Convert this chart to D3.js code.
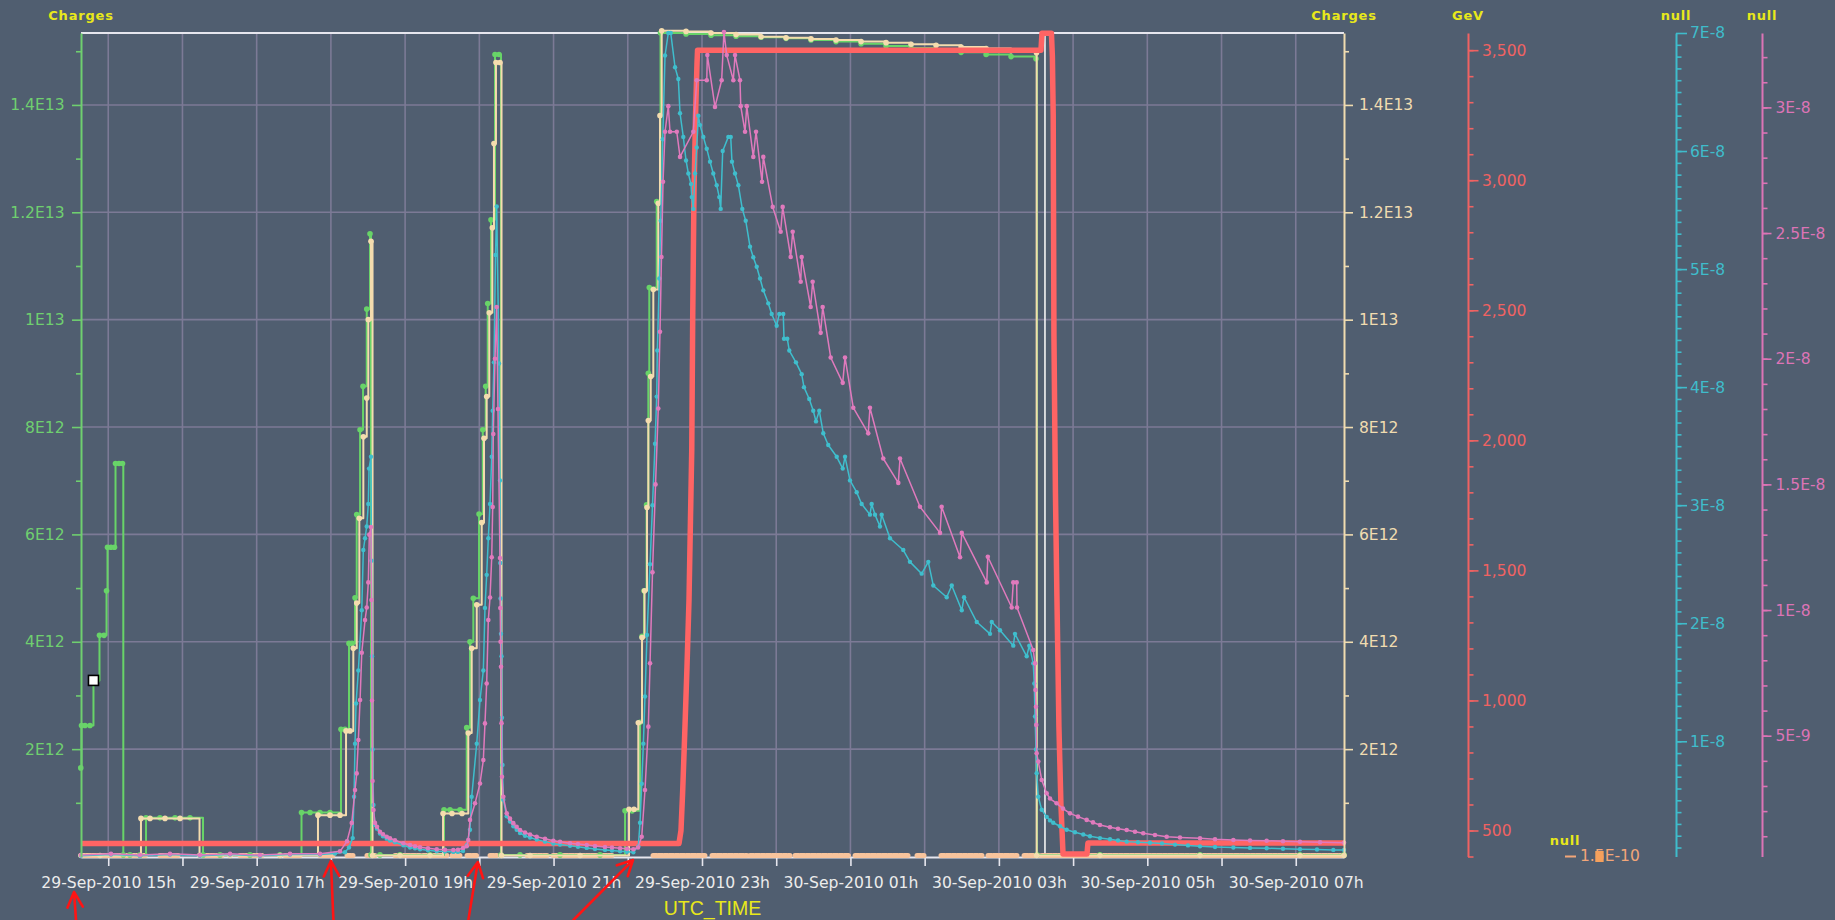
<!DOCTYPE html>
<html>
<head>
<meta charset="utf-8">
<title>Charges, GeV and signals – 29/30 Sep 2010</title>
<script src="https://cdn.jsdelivr.net/npm/d3@7/dist/d3.min.js"></script>
<style>
  html, body { margin: 0; padding: 0; background: #505e70; }
  svg { display: block; }
</style>
</head>
<body>
<svg id="chart" width="1835" height="920"></svg>
<script>
// ---------------------------------------------------------------------------
// Data. Times are hours since 29-Sep-2010 00:00 UTC.
// ---------------------------------------------------------------------------
const timeWindow = [14.633, 31.650];

// Beam 1 intensity, charges (x 1e12)
const beam1Charges = [
  [14.630,1.65],[14.640,2.44],[14.687,2.44],[14.754,2.44],[14.801,3.28],[14.849,3.28],[14.882,4.12],[14.943,4.12],
  [14.977,4.95],[14.990,5.76],[15.037,5.76],[15.084,5.76],[15.098,7.32],[15.145,7.32],[15.192,7.32],[15.203,0.03],
  [15.293,0.03],[15.428,0.03],[15.509,0.72],[15.697,0.72],[15.900,0.72],[16.102,0.72],[16.277,0.03],[16.506,0.03],
  [16.910,0.03],[17.314,0.03],[17.604,0.82],[17.719,0.82],[17.853,0.82],[17.988,0.82],[18.136,2.37],[18.190,2.37],
  [18.244,3.97],[18.285,3.97],[18.325,4.82],[18.348,6.37],[18.393,7.95],[18.433,8.76],[18.483,10.20],[18.527,11.60],
  [18.540,0.03],[18.661,0.03],[18.931,0.03],[19.336,0.03],[19.524,0.87],[19.605,0.87],[19.740,0.87],[19.830,2.40],
  [19.874,4.00],[19.919,4.81],[19.996,6.38],[20.046,7.95],[20.086,8.76],[20.113,10.30],[20.157,11.86],[20.211,14.94],
  [20.265,14.94],[20.292,0.03],[20.548,0.03],[21.087,0.03],[21.626,0.03],[21.963,0.85],[22.058,0.85],[22.165,2.50],
  [22.192,4.10],[22.219,4.95],[22.253,6.55],[22.277,9.00],[22.290,10.60],[22.390,12.20],[22.441,15.34],[22.785,15.32],
  [23.122,15.30],[23.459,15.28],[23.796,15.26],[24.133,15.24],[24.469,15.21],[24.806,15.18],[25.143,15.14],[25.480,15.10],
  [25.817,15.06],[26.154,15.02],[26.491,14.98],[26.828,14.94],[27.164,14.90],[27.500,14.86],[27.513,0.03],[28.362,0.03],
  [29.710,0.03],[31.057,0.03],[31.650,0.03]
];

// Beam 2 intensity, charges (x 1e12)
const beam2Charges = [
  [14.633,0.02],[14.889,0.02],[15.441,0.71],[15.563,0.71],[15.765,0.71],[15.967,0.71],[16.230,0.02],[16.641,0.02],
  [17.314,0.02],[17.826,0.77],[17.988,0.77],[18.123,0.77],[18.204,2.34],[18.258,2.34],[18.302,3.88],[18.348,4.72],
  [18.383,6.30],[18.437,7.82],[18.483,8.54],[18.504,10.00],[18.540,11.46],[18.561,0.02],[18.931,0.02],[19.336,0.02],
  [19.511,0.80],[19.632,0.80],[19.767,0.80],[19.851,2.30],[19.897,3.88],[19.965,4.69],[20.032,6.22],[20.063,7.79],
  [20.099,8.57],[20.134,10.13],[20.175,11.71],[20.197,13.28],[20.224,14.79],[20.278,14.79],[20.299,0.02],[20.683,0.02],
  [21.357,0.02],[22.017,0.88],[22.084,0.88],[22.142,2.49],[22.192,4.08],[22.226,4.95],[22.259,6.50],[22.277,8.12],
  [22.309,8.94],[22.344,10.56],[22.411,12.17],[22.434,13.80],[22.457,15.38],[22.785,15.37],[23.122,15.34],[23.459,15.31],
  [23.796,15.27],[24.133,15.25],[24.469,15.23],[24.806,15.21],[25.143,15.18],[25.480,15.16],[25.817,15.13],[26.154,15.11],
  [26.491,15.08],[26.828,15.05],[27.164,15.01],[27.507,14.97],[27.509,0.02],[28.362,0.02],[29.710,0.02],[31.057,0.02],
  [31.650,0.02]
];

// Beam energy (GeV)
const beamEnergy = [
  [14.633,450],[22.690,450],[22.717,500],[22.739,646],[22.768,877],[22.798,1130],[22.825,1387],[22.845,1700],
  [22.862,1964],[22.875,2476],[22.892,2951],[22.913,3250],[22.933,3451],[22.940,3500],[27.567,3500],[27.581,3565],
  [27.708,3565],[27.721,3475],[27.732,3250],[27.742,2400],[27.762,1800],[27.782,1400],[27.809,900],[27.836,600],
  [27.864,410],[28.187,410],[28.200,452],[31.650,452]
];

// First unnamed signal (x 1e-8)
const signalA = [
  [14.633,0.03],[15.037,0.04],[15.428,0.03],[15.832,0.04],[16.236,0.03],[16.641,0.04],[17.045,0.03],[17.449,0.04],
  [17.853,0.04],[18.055,0.05],[18.190,0.06],[18.244,0.10],[18.294,0.18],[18.312,0.53],[18.325,0.98],[18.339,1.32],
  [18.370,1.60],[18.416,2.11],[18.437,2.62],[18.460,2.72],[18.483,2.82],[18.504,3.01],[18.514,3.31],[18.540,3.41],
  [18.547,2.53],[18.554,1.72],[18.561,0.93],[18.574,0.46],[18.594,0.29],[18.621,0.26],[18.661,0.218],[18.702,0.195],
  [18.752,0.175],[18.796,0.16],[18.863,0.145],[18.976,0.119],[19.066,0.10],[19.133,0.093],[19.201,0.085],[19.308,0.076],
  [19.426,0.069],[19.537,0.066],[19.650,0.063],[19.712,0.063],[19.780,0.07],[19.830,0.12],[19.874,0.25],[19.897,0.53],
  [19.965,0.98],[20.009,1.35],[20.054,1.60],[20.076,2.13],[20.099,2.41],[20.121,2.72],[20.144,3.01],[20.167,3.41],
  [20.180,3.80],[20.197,4.21],[20.218,5.12],[20.234,5.53],[20.265,4.20],[20.278,3.21],[20.282,2.51],[20.286,2.21],
  [20.292,1.91],[20.299,1.72],[20.305,1.20],[20.312,0.80],[20.323,0.505],[20.369,0.365],[20.413,0.32],[20.458,0.28],
  [20.503,0.25],[20.548,0.223],[20.615,0.20],[20.683,0.185],[20.773,0.167],[20.885,0.15],[20.997,0.133],[21.087,0.125],
  [21.222,0.115],[21.329,0.107],[21.447,0.097],[21.558,0.088],[21.693,0.08],[21.787,0.075],[21.896,0.069],[21.989,0.064],
  [22.075,0.060],[22.142,0.11],[22.165,0.31],[22.188,0.64],[22.210,0.98],[22.232,1.38],[22.259,1.90],[22.300,2.50],
  [22.333,3.00],[22.367,3.52],[22.390,3.92],[22.398,4.31],[22.425,4.92],[22.444,5.41],[22.471,6.10],[22.502,6.81],
  [22.546,7.00],[22.579,7.00],[22.637,6.71],[22.681,6.61],[22.704,6.32],[22.748,6.12],[22.785,5.92],[22.816,5.81],
  [22.852,5.72],[22.862,5.61],[22.883,5.51],[22.906,5.81],[22.929,6.03],[22.951,6.30],[22.974,6.22],[23.018,6.12],
  [23.064,6.02],[23.108,5.91],[23.152,5.81],[23.198,5.71],[23.233,5.61],[23.252,5.51],[23.279,6.00],[23.355,6.12],
  [23.387,6.12],[23.404,5.91],[23.445,5.81],[23.490,5.71],[23.543,5.51],[23.589,5.41],[23.647,5.19],[23.691,5.10],
  [23.737,5.02],[23.782,4.92],[23.826,4.82],[23.893,4.71],[23.939,4.62],[24.006,4.52],[24.041,4.62],[24.095,4.62],
  [24.105,4.41],[24.149,4.41],[24.176,4.31],[24.266,4.21],[24.343,4.11],[24.374,4.00],[24.445,3.90],[24.499,3.80],
  [24.536,3.71],[24.580,3.80],[24.634,3.61],[24.701,3.51],[24.815,3.41],[24.896,3.31],[24.927,3.41],[24.994,3.21],
  [25.084,3.11],[25.151,3.01],[25.263,2.92],[25.286,3.01],[25.331,2.92],[25.398,2.82],[25.421,2.92],[25.533,2.72],
  [25.712,2.62],[25.802,2.52],[25.960,2.42],[26.049,2.52],[26.116,2.32],[26.297,2.22],[26.365,2.32],[26.500,2.11],
  [26.531,2.22],[26.702,2.01],[26.881,1.91],[26.904,2.01],[27.015,1.94],[27.194,1.81],[27.217,1.91],[27.375,1.72],
  [27.410,1.81],[27.463,1.66],[27.477,1.49],[27.487,1.21],[27.500,0.93],[27.509,0.73],[27.531,0.53],[27.577,0.42],
  [27.644,0.36],[27.689,0.33],[27.732,0.31],[27.824,0.28],[27.913,0.25],[28.025,0.23],[28.137,0.21],[28.227,0.195],
  [28.362,0.18],[28.497,0.17],[28.605,0.16],[28.722,0.15],[28.874,0.145],[29.036,0.14],[29.198,0.135],[29.373,0.125],
  [29.548,0.118],[29.710,0.11],[29.912,0.105],[30.159,0.10],[30.384,0.097],[30.608,0.094],[30.828,0.09],[31.057,0.085],
  [31.286,0.083],[31.506,0.08],[31.650,0.08]
];

// Second unnamed signal (x 1e-9)
const signalB = [
  [14.633,0.25],[15.037,0.30],[15.428,0.25],[15.832,0.30],[16.236,0.25],[16.641,0.30],[17.045,0.25],[17.449,0.30],
  [17.853,0.30],[18.123,0.40],[18.217,0.80],[18.281,1.53],[18.325,2.84],[18.348,3.50],[18.370,4.83],[18.393,6.42],
  [18.416,8.30],[18.460,9.60],[18.483,10.10],[18.504,11.10],[18.518,13.00],[18.540,13.30],[18.547,10.40],[18.554,6.40],
  [18.561,3.20],[18.574,2.04],[18.594,1.53],[18.621,1.38],[18.661,1.18],[18.702,1.08],[18.752,0.98],[18.796,0.92],
  [18.863,0.84],[18.976,0.72],[19.066,0.65],[19.133,0.60],[19.201,0.56],[19.308,0.52],[19.426,0.48],[19.537,0.46],
  [19.650,0.45],[19.712,0.46],[19.780,0.53],[19.830,0.60],[19.851,0.85],[19.874,1.65],[19.942,2.31],[20.009,3.10],
  [20.054,4.03],[20.076,5.49],[20.099,7.08],[20.121,9.60],[20.144,10.50],[20.167,12.10],[20.180,14.10],[20.188,17.00],
  [20.211,20.00],[20.234,22.06],[20.251,18.00],[20.278,12.07],[20.282,10.08],[20.286,8.74],[20.292,7.74],[20.299,5.50],
  [20.305,3.37],[20.323,2.57],[20.369,1.91],[20.413,1.70],[20.458,1.52],[20.503,1.38],[20.548,1.25],[20.615,1.15],
  [20.683,1.07],[20.773,0.98],[20.885,0.90],[20.997,0.82],[21.087,0.78],[21.222,0.72],[21.329,0.69],[21.447,0.65],
  [21.558,0.61],[21.693,0.57],[21.787,0.55],[21.896,0.52],[21.989,0.50],[22.075,0.48],[22.138,0.55],[22.188,0.98],
  [22.232,2.84],[22.277,5.36],[22.300,7.88],[22.333,11.50],[22.374,15.00],[22.411,18.02],[22.434,21.07],[22.454,24.05],
  [22.475,27.04],[22.502,29.03],[22.546,30.05],[22.569,29.03],[22.660,29.03],[22.704,28.03],[22.883,29.03],[22.929,31.08],
  [23.064,31.08],[23.072,32.08],[23.175,30.02],[23.265,31.08],[23.296,33.00],[23.333,32.08],[23.422,31.08],[23.445,32.08],
  [23.512,31.08],[23.522,30.05],[23.580,29.03],[23.603,30.05],[23.691,28.03],[23.728,29.03],[23.809,27.04],[23.826,28.03],
  [23.953,26.04],[24.060,25.05],[24.087,26.04],[24.195,24.05],[24.222,25.05],[24.330,23.06],[24.343,24.05],[24.464,22.06],
  [24.491,23.06],[24.599,21.03],[24.626,22.06],[24.734,20.05],[24.896,19.04],[24.927,20.05],[25.038,18.05],[25.240,17.03],
  [25.263,18.05],[25.442,16.03],[25.645,15.06],[25.668,16.03],[25.937,14.11],[26.207,13.07],[26.229,14.11],[26.477,12.10],
  [26.500,13.07],[26.837,11.10],[26.851,12.12],[27.173,10.10],[27.194,11.10],[27.240,11.10],[27.244,10.10],[27.463,8.41],
  [27.487,7.88],[27.493,6.82],[27.500,6.15],[27.504,5.43],[27.509,4.30],[27.531,3.97],[27.577,3.24],[27.644,2.71],
  [27.689,2.50],[27.778,2.31],[27.864,2.10],[27.958,1.91],[28.066,1.78],[28.183,1.65],[28.268,1.55],[28.362,1.45],
  [28.497,1.36],[28.605,1.30],[28.722,1.25],[28.834,1.18],[28.945,1.12],[29.103,1.05],[29.261,0.98],[29.440,0.95],
  [29.710,0.92],[29.912,0.88],[30.159,0.85],[30.384,0.83],[30.608,0.82],[30.828,0.80],[31.057,0.78],[31.327,0.76],
  [31.650,0.74]
];

// Third unnamed signal: constant value, logged over these intervals (start, end hours)
const auxValue = 1.5e-10;
const auxIntervals = [
  [14.633,15.522],[15.697,15.940],[16.304,16.533],[16.775,17.072],[17.382,17.584],[17.853,18.028],[18.217,18.298],
  [18.486,18.594],[18.864,19.201],[19.241,19.564],[19.632,19.739],[19.834,19.969],[20.144,20.238],[20.642,20.912],
  [20.993,21.801],[22.340,23.040],[23.135,23.606],[23.647,24.186],[24.253,24.994],[25.062,25.776],[25.897,25.991],
  [26.220,26.773],[26.853,27.244],[27.339,27.554],[27.581,31.650]
];

// Time cursor and the selected sample of beam 1
const cursorHour = 27.621;
const selectedBeam1Index = 4;

// Annotation arrows, pointing at these times
const arrowHours = [14.539, 18.0, 19.98, 22.07];

// Axis ticks
const chargeTicks = [2e12, 4e12, 6e12, 8e12, 1e13, 1.2e13, 1.4e13];
const energyTicks = [500, 1000, 1500, 2000, 2500, 3000, 3500];
const signalATicks = [1e-8, 2e-8, 3e-8, 4e-8, 5e-8, 6e-8, 7e-8];
const signalBTicks = [5e-9, 1e-8, 1.5e-8, 2e-8, 2.5e-8, 3e-8];

// ---------------------------------------------------------------------------
// Layout, colours, scales
// ---------------------------------------------------------------------------
const plot = { left: 81, right: 1344, top: 33, bottom: 856.5 };
const COL = {
  bg: '#505e70', grid: '#7c7a96', frame: '#e6e6ee', title: '#e8e81a', tickText: '#ececec',
  green: '#68d468', greenAxis: '#6fcf6f', cream: '#f4dcae', creamAxis: '#f0dcb0',
  red: '#ff6464', redAxis: '#f06262', cyan: '#3fbecd', cyanAxis: '#3fbccb',
  pink: '#e07abd', pinkAxis: '#dc74b6', aux: '#f8c49c', auxText: '#f3a679', auxMark: '#f4a05c',
  arrow: '#ff1414'
};
const FONT = '"DejaVu Sans", sans-serif';

const T0 = Date.UTC(2010, 8, 29);
const toTime = h => new Date(T0 + h * 3600e3);

const x = d3.scaleUtc().domain(timeWindow.map(toTime)).range([plot.left, plot.right]);
const yCharge = d3.scaleLinear().domain([0, 1.534e13]).range([plot.bottom, plot.top]);
const yEnergy = d3.scaleLinear().domain([400, 3566]).range([plot.bottom, plot.top]);
const ySigA = d3.scaleLinear().domain([2.4e-10, 7e-8]).range([plot.bottom, plot.top]);
const ySigB = d3.scaleLinear().domain([1.94e-10, 3.296e-8]).range([plot.bottom, plot.top]);
const yAux = d3.scaleLinear().domain([auxValue, auxValue]).range([856, 856]);

function sci(v) {
  const e = Math.floor(Math.log10(v) + 1e-9);
  const m = +(v / Math.pow(10, e)).toFixed(2);
  return `${m}E${e}`;
}

const svg = d3.select('#chart');
svg.append('rect').attr('width', 1835).attr('height', 920).attr('fill', COL.bg);

// ---------------------------------------------------------------------------
// Grid
// ---------------------------------------------------------------------------
const hourTicks = x.ticks(d3.utcHour.every(1));
svg.append('g').selectAll('line').data(hourTicks).join('line')
  .attr('x1', d => x(d)).attr('x2', d => x(d))
  .attr('y1', plot.top).attr('y2', plot.bottom)
  .attr('stroke', COL.grid).attr('stroke-width', 1.6);
svg.append('g').selectAll('line').data(chargeTicks).join('line')
  .attr('x1', plot.left).attr('x2', plot.right)
  .attr('y1', d => yCharge(d)).attr('y2', d => yCharge(d))
  .attr('stroke', COL.grid).attr('stroke-width', 1.6);

// top frame line
svg.append('line').attr('x1', plot.left).attr('x2', plot.right)
  .attr('y1', plot.top).attr('y2', plot.top)
  .attr('stroke', COL.frame).attr('stroke-width', 2);

// time cursor
svg.append('line')
  .attr('x1', x(toTime(cursorHour))).attr('x2', x(toTime(cursorHour)))
  .attr('y1', plot.top).attr('y2', plot.bottom)
  .attr('stroke', '#f4f4f4').attr('stroke-width', 1.6);

// ---------------------------------------------------------------------------
// Time axis
// ---------------------------------------------------------------------------
const fmtTime = d3.utcFormat('%d-%b-%Y %Hh');
const gx = svg.append('g').attr('transform', `translate(0,${plot.bottom + 0.5})`)
  .call(d3.axisBottom(x).tickValues(hourTicks).tickSize(9).tickPadding(11).tickSizeOuter(0)
    .tickFormat(d => d.getUTCHours() % 2 ? fmtTime(d) : ''));
gx.attr('font-family', FONT).attr('font-size', 15.6);
gx.select('.domain').attr('stroke', COL.frame).attr('stroke-width', 2);
gx.selectAll('.tick line').attr('stroke', COL.frame).attr('stroke-width', 1.6);
gx.selectAll('.tick text').attr('fill', COL.tickText);

svg.append('text').attr('x', (plot.left + plot.right) / 2).attr('y', 915)
  .attr('text-anchor', 'middle').attr('fill', COL.title)
  .attr('font-family', '"Liberation Sans", Arial, sans-serif').attr('font-size', 19.5)
  .text('UTC_TIME');

// ---------------------------------------------------------------------------
// Series
// ---------------------------------------------------------------------------
const series = svg.append('g');

// constant auxiliary signal
series.append('g').selectAll('line').data(auxIntervals).join('line')
  .attr('x1', d => x(toTime(d[0]))).attr('x2', d => x(toTime(d[1])))
  .attr('y1', yAux(auxValue) - 0.5).attr('y2', yAux(auxValue) - 0.5)
  .attr('stroke', COL.aux).attr('stroke-width', 5).attr('stroke-linecap', 'round')
  .attr('stroke-dasharray', '4 1.5');

function drawSeries(data, unit, yScale, color, width, curve, r) {
  const g = series.append('g');
  const line = d3.line().curve(curve)
    .x(d => x(toTime(d[0]))).y(d => yScale(d[1] * unit));
  g.append('path').attr('d', line(data)).attr('fill', 'none')
    .attr('stroke', color).attr('stroke-width', width).attr('stroke-linejoin', 'round');
  if (r > 0) {
    g.selectAll('circle').data(data).join('circle')
      .attr('cx', d => x(toTime(d[0]))).attr('cy', d => yScale(d[1] * unit))
      .attr('r', r).attr('fill', color);
  }
  return g;
}

drawSeries(beam1Charges, 1e12, yCharge, COL.green, 2, d3.curveStepAfter, 2.8);
drawSeries(beam2Charges, 1e12, yCharge, COL.cream, 2, d3.curveStepAfter, 2.8);
drawSeries(beamEnergy, 1, yEnergy, COL.red, 5.5, d3.curveLinear, 0);
drawSeries(signalA, 1e-8, ySigA, COL.cyan, 1.5, d3.curveLinear, 2.2);
drawSeries(signalB, 1e-9, ySigB, COL.pink, 1.5, d3.curveLinear, 2.3);

// selected sample marker
const sel = beam1Charges[selectedBeam1Index];
svg.append('rect')
  .attr('x', x(toTime(sel[0])) - 5).attr('y', yCharge(sel[1] * 1e12) - 5)
  .attr('width', 10).attr('height', 10)
  .attr('fill', '#ffffff').attr('stroke', '#000000').attr('stroke-width', 1.6);

// ---------------------------------------------------------------------------
// Value axes
// ---------------------------------------------------------------------------
function valueAxis(xPos, scale, side, major, minor, fmt, color, majorLen, minorLen, pad) {
  const mk = side === 'left' ? d3.axisLeft : d3.axisRight;
  const gMinor = svg.append('g').attr('transform', `translate(${xPos},0)`)
    .call(mk(scale).tickValues(minor).tickSize(minorLen).tickFormat('').tickSizeOuter(0));
  gMinor.select('.domain').attr('stroke', 'none');
  gMinor.selectAll('.tick line').attr('stroke', color).attr('stroke-width', 1.6);
  const g = svg.append('g').attr('transform', `translate(${xPos},0)`)
    .call(mk(scale).tickValues(major).tickSize(majorLen).tickPadding(pad).tickFormat(fmt).tickSizeOuter(0));
  g.attr('font-family', FONT).attr('font-size', 15.5);
  g.select('.domain').attr('stroke', color).attr('stroke-width', 2);
  g.selectAll('.tick line').attr('stroke', color).attr('stroke-width', 1.6);
  g.selectAll('.tick text').attr('fill', color);
  return g;
}

const chargeMinor = d3.range(1e12, 1.6e13, 2e12);
valueAxis(plot.left, yCharge, 'left', chargeTicks, chargeMinor, sci, COL.greenAxis, 9, 5, 7.5);
valueAxis(plot.right, yCharge, 'right', chargeTicks, chargeMinor, sci, COL.creamAxis, 9, 5, 6);
valueAxis(1468, yEnergy, 'right', energyTicks, d3.range(400, 3501, 100), d3.format(','), COL.redAxis, 10.5, 5.5, 3.5);
valueAxis(1676, ySigA, 'right', signalATicks, d3.range(1, 70).map(k => k * 1e-9), sci, COL.cyanAxis, 11, 5.5, 3);
valueAxis(1762, ySigB, 'right', signalBTicks, d3.range(1, 33).map(k => k * 1e-9), sci, COL.pinkAxis, 9.5, 5.5, 4);

// auxiliary signal axis (single value, so it collapses to one tick)
const gAux = svg.append('g').attr('transform', 'translate(1565,0)')
  .call(d3.axisRight(yAux).tickValues([auxValue]).tickSize(11).tickPadding(4).tickFormat(sci).tickSizeOuter(0));
gAux.attr('font-family', FONT).attr('font-size', 15.5);
gAux.select('.domain').attr('stroke', COL.auxText).attr('stroke-width', 1.6);
gAux.selectAll('.tick line').attr('stroke', COL.auxText).attr('stroke-width', 2);
const auxLabel = gAux.select('.tick text').attr('fill', COL.auxText);
{
  // small sample-colour swatch sitting over the label's middle digit
  const node = auxLabel.node();
  const p = node.getStartPositionOfChar(2);
  const e = node.getEndPositionOfChar(2);
  d3.select(node.parentNode).append('rect')
    .attr('x', p.x + 0.5).attr('y', -5.5)
    .attr('width', Math.max(6, e.x - p.x - 1.5)).attr('height', 11)
    .attr('fill', COL.auxMark);
}

// axis titles
const titles = [
  { x: plot.left, y: 20, text: 'Charges' },
  { x: plot.right, y: 20, text: 'Charges' },
  { x: 1468, y: 20, text: 'GeV' },
  { x: 1676, y: 20, text: 'null' },
  { x: 1762, y: 20, text: 'null' },
  { x: 1565, y: 845, text: 'null' }
];
svg.append('g').selectAll('text').data(titles).join('text')
  .attr('x', d => d.x).attr('y', d => d.y).attr('text-anchor', 'middle')
  .attr('fill', COL.title).attr('font-family', FONT).attr('font-weight', 'bold')
  .attr('font-size', 13).attr('letter-spacing', 0.8)
  .text(d => d.text);

// ---------------------------------------------------------------------------
// Annotation arrows
// ---------------------------------------------------------------------------
const arrowShape = [
  { tipY: 892, tailDx: 2 },
  { tipY: 861, tailDx: 2.5 },
  { tipY: 862, tailDx: -9.5 },
  { tipY: 860, tailDx: -59.6 }
];
const ga = svg.append('g').attr('stroke', COL.arrow).attr('stroke-width', 2.6)
  .attr('fill', 'none').attr('stroke-linecap', 'round').attr('stroke-linejoin', 'round');
arrowHours.forEach((h, i) => {
  const tx = x(toTime(h)), ty = arrowShape[i].tipY;
  const sx = tx + arrowShape[i].tailDx, sy = 920;
  const ang = Math.atan2(sy - ty, sx - tx);
  const L = 17, spread = 27 * Math.PI / 180;
  const w1 = [tx + L * Math.cos(ang - spread), ty + L * Math.sin(ang - spread)];
  const w2 = [tx + L * Math.cos(ang + spread), ty + L * Math.sin(ang + spread)];
  ga.append('path').attr('d', `M${sx},${sy}L${tx},${ty}M${w1[0]},${w1[1]}L${tx},${ty}L${w2[0]},${w2[1]}`);
});
</script>
</body>
</html>
